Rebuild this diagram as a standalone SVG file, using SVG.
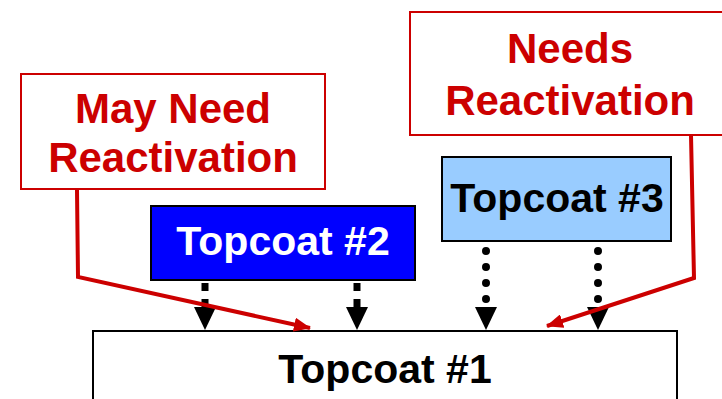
<svg xmlns="http://www.w3.org/2000/svg" width="722" height="399" viewBox="0 0 722 399">
<defs>
<style>
.lbl{font-family:"Liberation Sans",Arial,sans-serif;font-weight:bold;text-anchor:middle}
.red{fill:#cc0000;font-size:42px}
.tc{font-size:41px}
.note{fill:#ffffff;stroke:#cc0000;stroke-width:2}
.dash{stroke:#000;stroke-width:7;stroke-dasharray:8 8;fill:none}
.dot{stroke:#000;stroke-width:8;stroke-linecap:round;stroke-dasharray:0 16;fill:none}
.rl{stroke:#cc0000;stroke-width:4;fill:none;marker-end:url(#rh)}
</style>
<marker id="rh" markerUnits="userSpaceOnUse" markerWidth="18" markerHeight="14" refX="16" refY="7" orient="auto">
<path d="M0,0 L17,7 L0,14 Z" fill="#cc0000"/>
</marker>
</defs>
<rect width="722" height="399" fill="#ffffff"/>
<g id="topcoat1">
<rect x="93" y="331" width="584" height="100" fill="#ffffff" stroke="#000" stroke-width="2"/>
<text class="lbl tc" x="385" y="383" fill="#000">Topcoat #1</text>
</g>
<g id="topcoat2">
<rect x="151" y="206" width="264" height="74" fill="#0000ff" stroke="#000" stroke-width="2"/>
<text class="lbl tc" x="283" y="255" fill="#ffffff">Topcoat #2</text>
</g>
<g id="topcoat3">
<rect x="442" y="157" width="229" height="84" fill="#99ccff" stroke="#000" stroke-width="2"/>
<text class="lbl tc" x="557" y="212" fill="#000">Topcoat #3</text>
</g>
<g id="may-need">
<rect class="note" x="21" y="74" width="304" height="115"/>
<text class="lbl red" x="173" y="123">May Need</text>
<text class="lbl red" x="173" y="172">Reactivation</text>
</g>
<g id="needs">
<rect class="note" x="410" y="12" width="320" height="123"/>
<text class="lbl red" x="570" y="63">Needs</text>
<text class="lbl red" x="570" y="115">Reactivation</text>
</g>
<g id="connectors">
<line class="dash" x1="205" y1="283" x2="205" y2="307"/>
<path d="M194,307 L216,307 L205,330 Z"/>
<line class="dash" x1="357" y1="283" x2="357" y2="307"/>
<path d="M346,307 L368,307 L357,330 Z"/>
<line class="dot" x1="486" y1="251" x2="486" y2="300"/>
<path d="M475,307 L497,307 L486,330 Z"/>
<line class="dot" x1="598" y1="251" x2="598" y2="300"/>
<path d="M587,307 L609,307 L598,330 Z"/>
<path class="rl" d="M77,190 L78,277 L310,328"/>
<path class="rl" d="M691,135 L694,278 L547,326"/>
</g>
</svg>
